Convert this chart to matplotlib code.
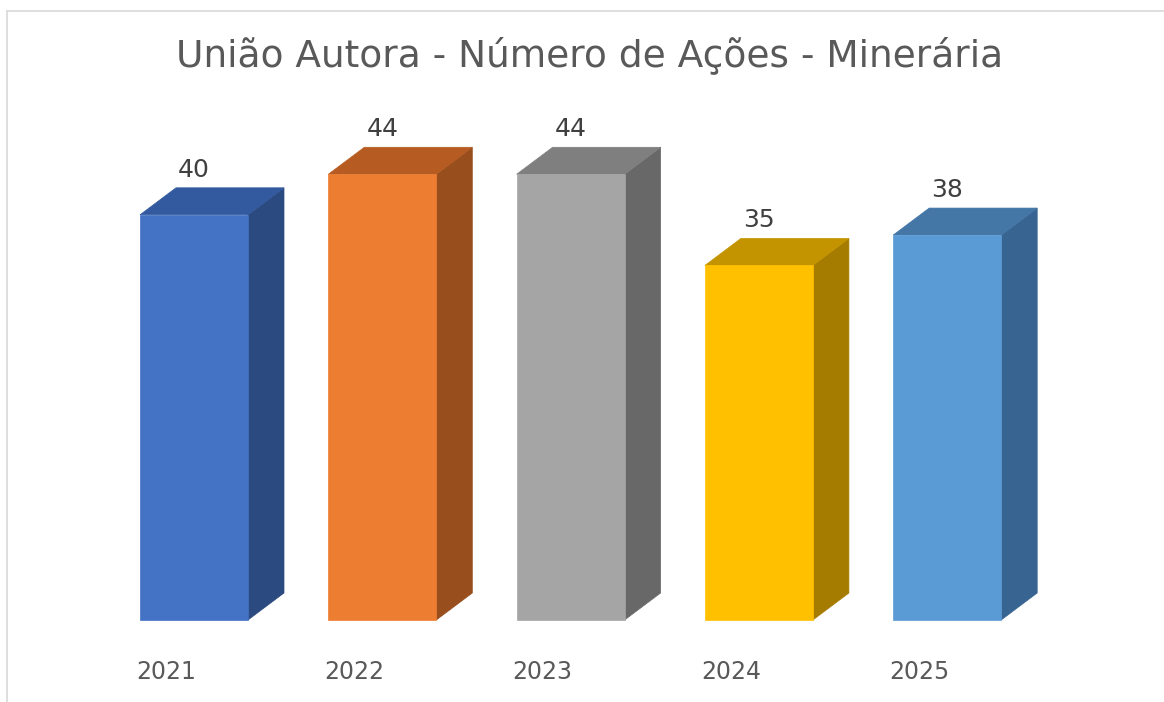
import numpy as np
import matplotlib.pyplot as plt
from matplotlib.patches import Polygon
from matplotlib.lines import Line2D

years = ['2021', '2022', '2023', '2024', '2025']
values = [40, 44, 44, 35, 38]
front_colors = ['#4472C4', '#ED7D31', '#A5A5A5', '#FFC000', '#5B9BD5']
top_colors = ['#335A9E', '#B65C22', '#7F7F7F', '#C49300', '#4577A6']
side_colors = ['#2B4A80', '#984E1D', '#686868', '#A67C00', '#386491']

W, H = 1164, 702
# pixel geometry of the frame (value 0 at y=620, 10.13 px per unit, 188.3 px per category)
px_per_cat = 188.3
px_per_val = 10.13
x0_px, base_px = 194, 620

bar_w = 108 / px_per_cat
dx = 36 / px_per_cat
dy = 27 / px_per_val

fig = plt.figure(figsize=(W / 100, H / 100), dpi=100)
ax = fig.add_axes([0, 0, 1, 1])
ax.set_xlim(-x0_px / px_per_cat, (W - x0_px) / px_per_cat)
ax.set_ylim(-(H - base_px) / px_per_val, base_px / px_per_val)
ax.axis('off')

for i, v in enumerate(values):
    l, r = i - bar_w / 2, i + bar_w / 2
    front = [(l, 0), (r, 0), (r, v), (l, v)]
    side = [(r, 0), (r + dx, dy), (r + dx, v + dy), (r, v)]
    top = [(l, v), (r, v), (r + dx, v + dy), (l + dx, v + dy)]
    ax.add_patch(Polygon(side, closed=True, facecolor=side_colors[i], edgecolor=side_colors[i], lw=0.5))
    ax.add_patch(Polygon(top, closed=True, facecolor=top_colors[i], edgecolor=top_colors[i], lw=0.5))
    ax.add_patch(Polygon(front, closed=True, facecolor=front_colors[i], edgecolor=front_colors[i], lw=0.5))
    ax.text(i, v + dy + 0.6, str(v), ha='center', va='bottom', fontsize=18, color='#404040')
    ax.text(i - 28 / px_per_cat, -52 / px_per_val, years[i], ha='center', va='center',
            fontsize=17, color='#595959')

fig.text(590 / W, 1 - 55 / H, 'União Autora - Número de Ações - Minerária', ha='center', va='center',
         fontsize=27, color='#595959')

# chart frame (only top and left edges visible in the crop)
fig.add_artist(Line2D([6.5 / W, 1], [1 - 10.5 / H, 1 - 10.5 / H], color='#D9D9D9', lw=1.2))
fig.add_artist(Line2D([6.5 / W, 6.5 / W], [0, 1 - 10.5 / H], color='#D9D9D9', lw=1.2))

fig.savefig('out.png', dpi=100)
